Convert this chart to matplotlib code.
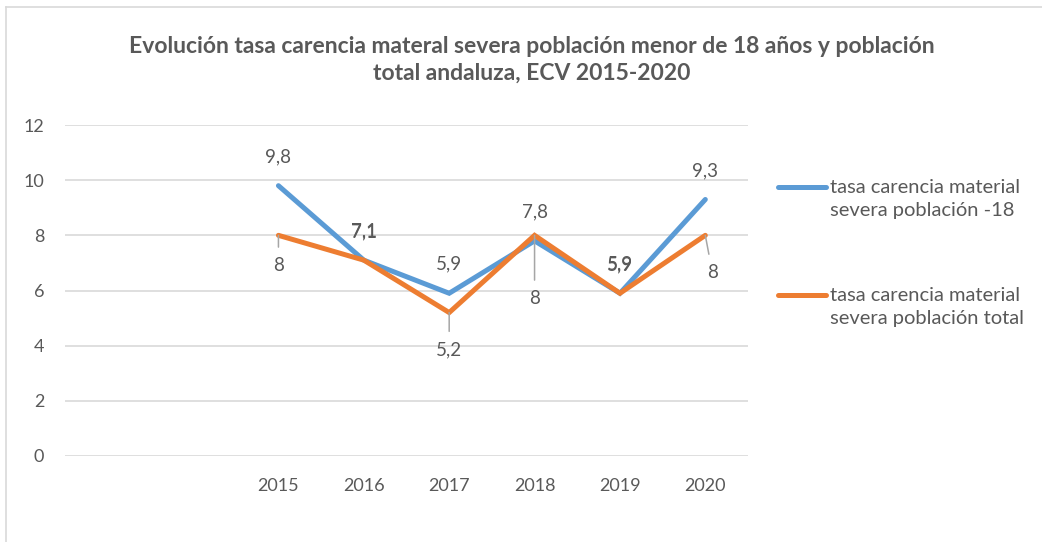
import matplotlib
matplotlib.use("Agg")
import matplotlib.pyplot as plt
from matplotlib.lines import Line2D
import numpy as np

plt.rcParams['font.family'] = ['Lato', 'DejaVu Sans']

# two empty categories come before 2015 in the source sheet
n_blank = 2
years = ['2015', '2016', '2017', '2018', '2019', '2020']
menores = [9.8, 7.1, 5.9, 7.8, 5.9, 9.3]
total = [8, 7.1, 5.2, 8, 5.9, 8]
lbl_menores = 'tasa carencia material\nsevera población -18'
lbl_total = 'tasa carencia material\nsevera población total'
titulo = ('Evolución tasa carencia materal severa población menor de 18 años y población\n'
          'total andaluza, ECV 2015-2020')

blue = '#5B9BD5'
orange = '#ED7D31'
txt = '#595959'
grid = '#D9D9D9'


def fmt(v):
    return f'{v:g}'.replace('.', ',')


fig = plt.figure(figsize=(10.42, 5.42), dpi=100)
ax = fig.add_axes([65 / 1042, 1 - 456 / 542, 683 / 1042, 331 / 542])

x = np.arange(len(years)) + n_blank
ax.plot(x, menores, color=blue, lw=3.6, solid_capstyle='round', solid_joinstyle='miter', zorder=3)
ax.plot(x, total, color=orange, lw=3.6, solid_capstyle='round', solid_joinstyle='miter', zorder=4)

ax.set_xlim(-0.5, len(years) + n_blank - 0.5)
ax.set_ylim(0, 12)
ax.set_yticks(range(0, 13, 2))
ax.set_xticks(x)
ax.set_xticklabels(years)
ax.grid(axis='y', color=grid, lw=1.2)
ax.set_axisbelow(True)
for s in ax.spines.values():
    s.set_visible(False)
ax.tick_params(length=0, labelsize=13, colors=txt)
ax.tick_params(axis='y', pad=15)
ax.tick_params(axis='x', pad=16)

# blue labels sit above the points
for xi, v in zip(x, menores):
    ax.annotate(fmt(v), (xi, v), xytext=(0, 29), textcoords='offset pixels',
                ha='center', va='center', fontsize=13.5, color=txt, zorder=5)

# orange labels: (dx, dy) offsets in pixels, leader line or not
offs = [(0, -30, True), (0, 28, False), (0, -37, True), (0, -63, True), (0, 28, False), (7, -37, True)]
for xi, v, (dx, dy, lead) in zip(x, total, offs):
    ap = None
    if lead:
        ap = dict(arrowstyle='-', color='#A6A6A6', lw=1.1, shrinkA=5, shrinkB=0)
    ax.annotate(fmt(v), (xi, v), xytext=(dx, dy), textcoords='offset pixels',
                ha='center', va='center', fontsize=13.5, color=txt, zorder=5,
                arrowprops=ap)

fig.text(532 / 1042, 1 - 60 / 542, titulo, ha='center', va='center', fontsize=16.5,
         fontweight='bold', color=txt, linespacing=1.32)

# legend drawn by hand so the line sits next to the first text line
for y0, col, lab in [(187, blue, lbl_menores), (295, orange, lbl_total)]:
    fig.add_artist(Line2D([778 / 1042, 826 / 1042], [1 - y0 / 542] * 2, color=col,
                          lw=3.6, solid_capstyle='round'))
    fig.text(830 / 1042, 1 - (y0 - 8) / 542, lab, ha='left', va='top', fontsize=14.5,
             color=txt, linespacing=1.4)

# chart frame (only top and left edges show in the crop)
fig.add_artist(Line2D([6 / 1042, 6 / 1042], [0, 1 - 7 / 542], color='#D9D9D9', lw=1.2))
fig.add_artist(Line2D([6 / 1042, 1], [1 - 7 / 542] * 2, color='#D9D9D9', lw=1.2))

fig.savefig('out.png', dpi=100)
